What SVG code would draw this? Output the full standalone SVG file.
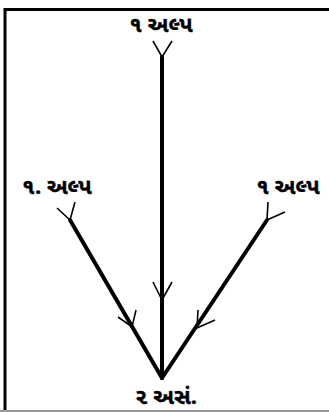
<svg xmlns="http://www.w3.org/2000/svg" width="329" height="412" viewBox="0 0 329 412">
<style>
.frame{fill:none;stroke:#000;stroke-width:3}
.edge{stroke:#000;stroke-width:4;stroke-linecap:round;fill:none}
.head{stroke:#000;stroke-width:1.6;fill:none}
.lbl{font-family:"Noto Sans Gujarati","Noto Sans",sans-serif;font-size:22px;font-weight:bold;fill:#000;text-anchor:middle;stroke:#000;stroke-width:0.4}
</style>
<rect width="329" height="412" fill="#fff"/>
<path class="frame" d="M5,412 V9.5 H331"/>
<line x1="0" y1="411" x2="329" y2="411" stroke="#999" stroke-width="2"/>
<g id="connectors">
<line class="edge" x1="162" y1="57" x2="162" y2="378"/>
<line class="edge" x1="70" y1="220" x2="162" y2="378"/>
<line class="edge" x1="267" y1="220" x2="162" y2="378"/>
<path class="head" d="M153,41 L162,57 L172,41"/>
<path class="head" d="M153,282 L162,300 L172,282"/>
<path class="head" d="M57,208 L70,220 L75,202"/>
<path class="head" d="M118,317 L132,327 L136,310"/>
<path class="head" d="M268,202 L267,220 L285,212"/>
<path class="head" d="M198,310 L197,328 L215,320"/>
</g>
<g id="n-top"><text class="lbl" x="161" y="32">૧ અલ્પ</text></g>
<g id="n-left"><text class="lbl" x="57" y="194">૧. અલ્પ</text></g>
<g id="n-right"><text class="lbl" x="288" y="194">૧ અલ્પ</text></g>
<g id="n-bottom"><text class="lbl" x="166" y="404">૨ અસં.</text></g>
</svg>
